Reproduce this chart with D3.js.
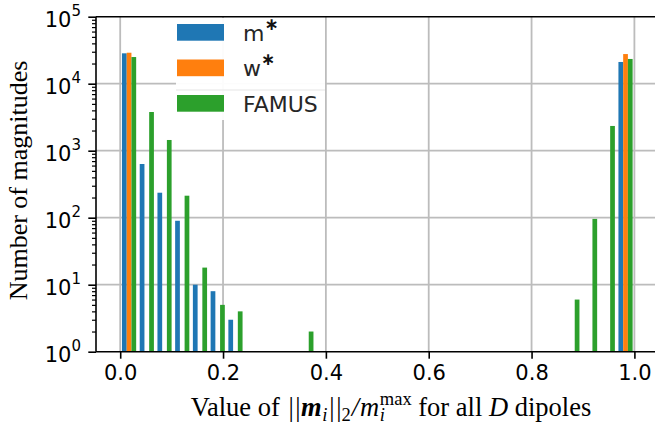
<!DOCTYPE html>
<html><head><meta charset="utf-8">
<script src="https://cdn.jsdelivr.net/npm/d3@7/dist/d3.min.js"></script>
<style>body{margin:0;background:#fff}svg{display:block}</style>
</head><body>
<svg id="chart" width="655" height="425"></svg>
<script>
// ---------- data ----------
const binEdges = [0, 0.0345, 0.0690, 0.1034, 0.1379, 0.1724, 0.2069, 0.2414, 0.2759, 0.3103,
  0.3448, 0.3793, 0.4138, 0.4483, 0.4828, 0.5172, 0.5517, 0.5862, 0.6207, 0.6552,
  0.6897, 0.7241, 0.7586, 0.7931, 0.8276, 0.8621, 0.8966, 0.9310, 0.9655, 1.0];
const seriesNames = ["m", "w", "FAMUS"];
const seriesStar = [true, true, false];
const seriesColors = ["#1f77b4", "#ff7f0e", "#2ca02c"];
const countsM = [28400, 633, 236, 90, 10, 8, 3, 0, 0, 0, 0, 0, 0, 0, 0, 0, 0, 0, 0, 0, 0, 0, 0, 0, 0, 0, 0, 0, 21100];
const countsW = [29000, 0, 0, 0, 0, 0, 0, 0, 0, 0, 0, 0, 0, 0, 0, 0, 0, 0, 0, 0, 0, 0, 0, 0, 0, 0, 0, 0, 27700];
const countsF = [25000, 3780, 1445, 213, 18, 5, 4, 0, 0, 0, 2, 0, 0, 0, 0, 0, 0, 0, 0, 0, 0, 0, 0, 0, 0, 6, 96, 2340, 23400];
const xTicks = [0, 0.2, 0.4, 0.6, 0.8, 1.0];
const xTickLabels = ["0.0", "0.2", "0.4", "0.6", "0.8", "1.0"];
const yTicks = [1, 10, 100, 1000, 10000, 100000];
const yExponents = ["0", "1", "2", "3", "4", "5"];
const yLabel = "Number of magnitudes";

// ---------- layout ----------
const svg = d3.select("#chart");
const plot = {left: 96, right: 660, top: 16.7, bottom: 351.7};
const x = d3.scaleLinear().domain([0, 1]).range([120.2, 634.4]);
const y = d3.scaleLog().domain([1, 1e5]).range([plot.bottom, plot.top]);
const sans = "'DejaVu Sans', sans-serif";
const serif = "'Liberation Serif', 'Times New Roman', serif";

// grid
const grid = svg.append("g");
xTicks.forEach(v => grid.append("line").attr("x1", x(v)).attr("x2", x(v))
  .attr("y1", plot.top).attr("y2", plot.bottom).attr("stroke", "#bcbcbc").attr("stroke-width", 1.8));
yTicks.slice(1, -1).forEach(v => grid.append("line").attr("y1", y(v)).attr("y2", y(v))
  .attr("x1", plot.left).attr("x2", plot.right).attr("stroke", "#bcbcbc").attr("stroke-width", 1.8));

// bars
const allCounts = [countsM, countsW, countsF];
const bars = svg.append("g");
allCounts.forEach((counts, k) => {
  counts.forEach((c, i) => {
    if (c <= 0) return;
    const bw = binEdges[i + 1] - binEdges[i];
    const w = 0.8 * bw / 3;
    const x0 = binEdges[i] + 0.1 * bw + k * w;
    bars.append("rect")
      .attr("x", x(x0)).attr("width", x(x0 + w) - x(x0))
      .attr("y", y(c)).attr("height", y(1) - y(c))
      .attr("fill", seriesColors[k]);
  });
});

// axes
const xAxis = svg.append("g").attr("transform", `translate(0,${plot.bottom})`)
  .call(d3.axisBottom(x).tickValues(xTicks).tickFormat((d, i) => xTickLabels[i]).tickSize(7).tickPadding(6));
xAxis.select(".domain").remove();
xAxis.selectAll(".tick line").attr("stroke", "#000").attr("stroke-width", 1.6);
xAxis.selectAll(".tick text").style("font-family", sans).style("font-size", "21px").attr("fill", "#000");

const minorVals = [];
for (let e = 0; e < 5; e++) for (let m = 2; m <= 9; m++) minorVals.push(m * Math.pow(10, e));
const yMinor = svg.append("g").attr("transform", `translate(${plot.left},0)`)
  .call(d3.axisLeft(y).tickValues(minorVals).tickFormat("").tickSize(4));
yMinor.select(".domain").remove();
yMinor.selectAll(".tick line").attr("stroke", "#000").attr("stroke-width", 1.2);

const yAxis = svg.append("g").attr("transform", `translate(${plot.left},0)`)
  .call(d3.axisLeft(y).tickValues(yTicks).tickFormat("").tickSize(7.7));
yAxis.select(".domain").remove();
yAxis.selectAll(".tick line").attr("stroke", "#000").attr("stroke-width", 1.6);
yAxis.selectAll(".tick").each(function (d, i) {
  const t = d3.select(this).append("text").attr("x", -15).attr("y", 9.5)
    .attr("text-anchor", "end").attr("fill", "#000")
    .style("font-family", sans).style("font-size", "21px");
  t.append("tspan").text("10");
  t.append("tspan").attr("dy", -11).style("font-size", "15px").text(yExponents[i]);
});

// spines
[[plot.left, plot.left, plot.top, plot.bottom], [plot.left, plot.right, plot.bottom, plot.bottom],
 [plot.left, plot.right, plot.top, plot.top], [plot.right, plot.right, plot.top, plot.bottom]].forEach(s =>
  svg.append("line").attr("x1", s[0]).attr("x2", s[1]).attr("y1", s[2]).attr("y2", s[3])
    .attr("stroke", "#000").attr("stroke-width", 1.6));

// legend
const leg = svg.append("g");
leg.append("rect").attr("x", 176).attr("y", 18).attr("width", 149).attr("height", 102)
  .attr("fill", "#fff").attr("fill-opacity", 0.95);
leg.append("line").attr("x1", 176).attr("x2", 325).attr("y1", 90).attr("y2", 90)
  .attr("stroke", "#eeeeee").attr("stroke-width", 1.5);
seriesNames.forEach((n, k) => {
  const yy = 24 + k * 35.5;
  leg.append("rect").attr("x", 177).attr("y", yy).attr("width", 47).attr("height", 16.7)
    .attr("fill", seriesColors[k]);
  const t = leg.append("text").attr("x", 243).attr("y", yy + 16.7).attr("fill", "#262626")
    .style("font-family", sans).style("font-size", "22px");
  t.append("tspan").text(n);
  if (seriesStar[k]) t.append("tspan").attr("dy", -11).attr("dx", 0).style("font-size", "17px")
    .style("font-weight", "bold").attr("fill", "#111").text("\u2217");
});

// y label
svg.append("text").attr("transform", "translate(27,180.5) rotate(-90)")
  .attr("text-anchor", "middle").attr("fill", "#000")
  .style("font-family", serif).style("font-size", "26px").text(yLabel);

// x label (math pieces)
const F = 26.5;
const pieces = [
  {t: "Value of ", g: 2},
  {t: "|", g: 1.5},
  {t: "|", g: 0.5},
  {t: "m", it: true, b: true, g: 0.5},
  {t: "i", it: true, s: 0.7, dy: 0.2, g: 2},
  {t: "|", g: 1.5},
  {t: "|", g: 0},
  {t: "2", s: 0.7, dy: 0.2, g: 1},
  {t: "/", it: true, g: 1},
  {t: "m", it: true, g: 0.5},
  {t: "i", it: true, s: 0.7, dy: 0.2, hold: true},
  {t: "max", s: 0.7, dy: -0.4, g: 0},
  {t: " for all ", g: 0},
  {t: "D", it: true, g: 0},
  {t: " dipoles"}
];
const xl = svg.append("g");
let cx = 0, held = null;
pieces.forEach(p => {
  const size = F * (p.s || 1);
  const startX = held ? held.x : cx;
  const t = xl.append("text").attr("x", startX).attr("y", (p.dy || 0) * F)
    .attr("fill", "#000")
    .style("font-family", serif).style("font-size", size + "px")
    .style("font-style", p.it ? "italic" : "normal")
    .style("font-weight", p.b ? "bold" : "normal")
    .style("white-space", "pre")
    .text(p.t);
  const w = t.node().getComputedTextLength();
  if (p.hold) { held = {x: cx, w: w}; return; }
  if (held) { cx = held.x + Math.max(held.w, w); held = null; }
  else cx += w;
  cx += (p.g || 0);
});
xl.attr("transform", `translate(${391 - cx / 2},416)`);
</script>
</body></html>
